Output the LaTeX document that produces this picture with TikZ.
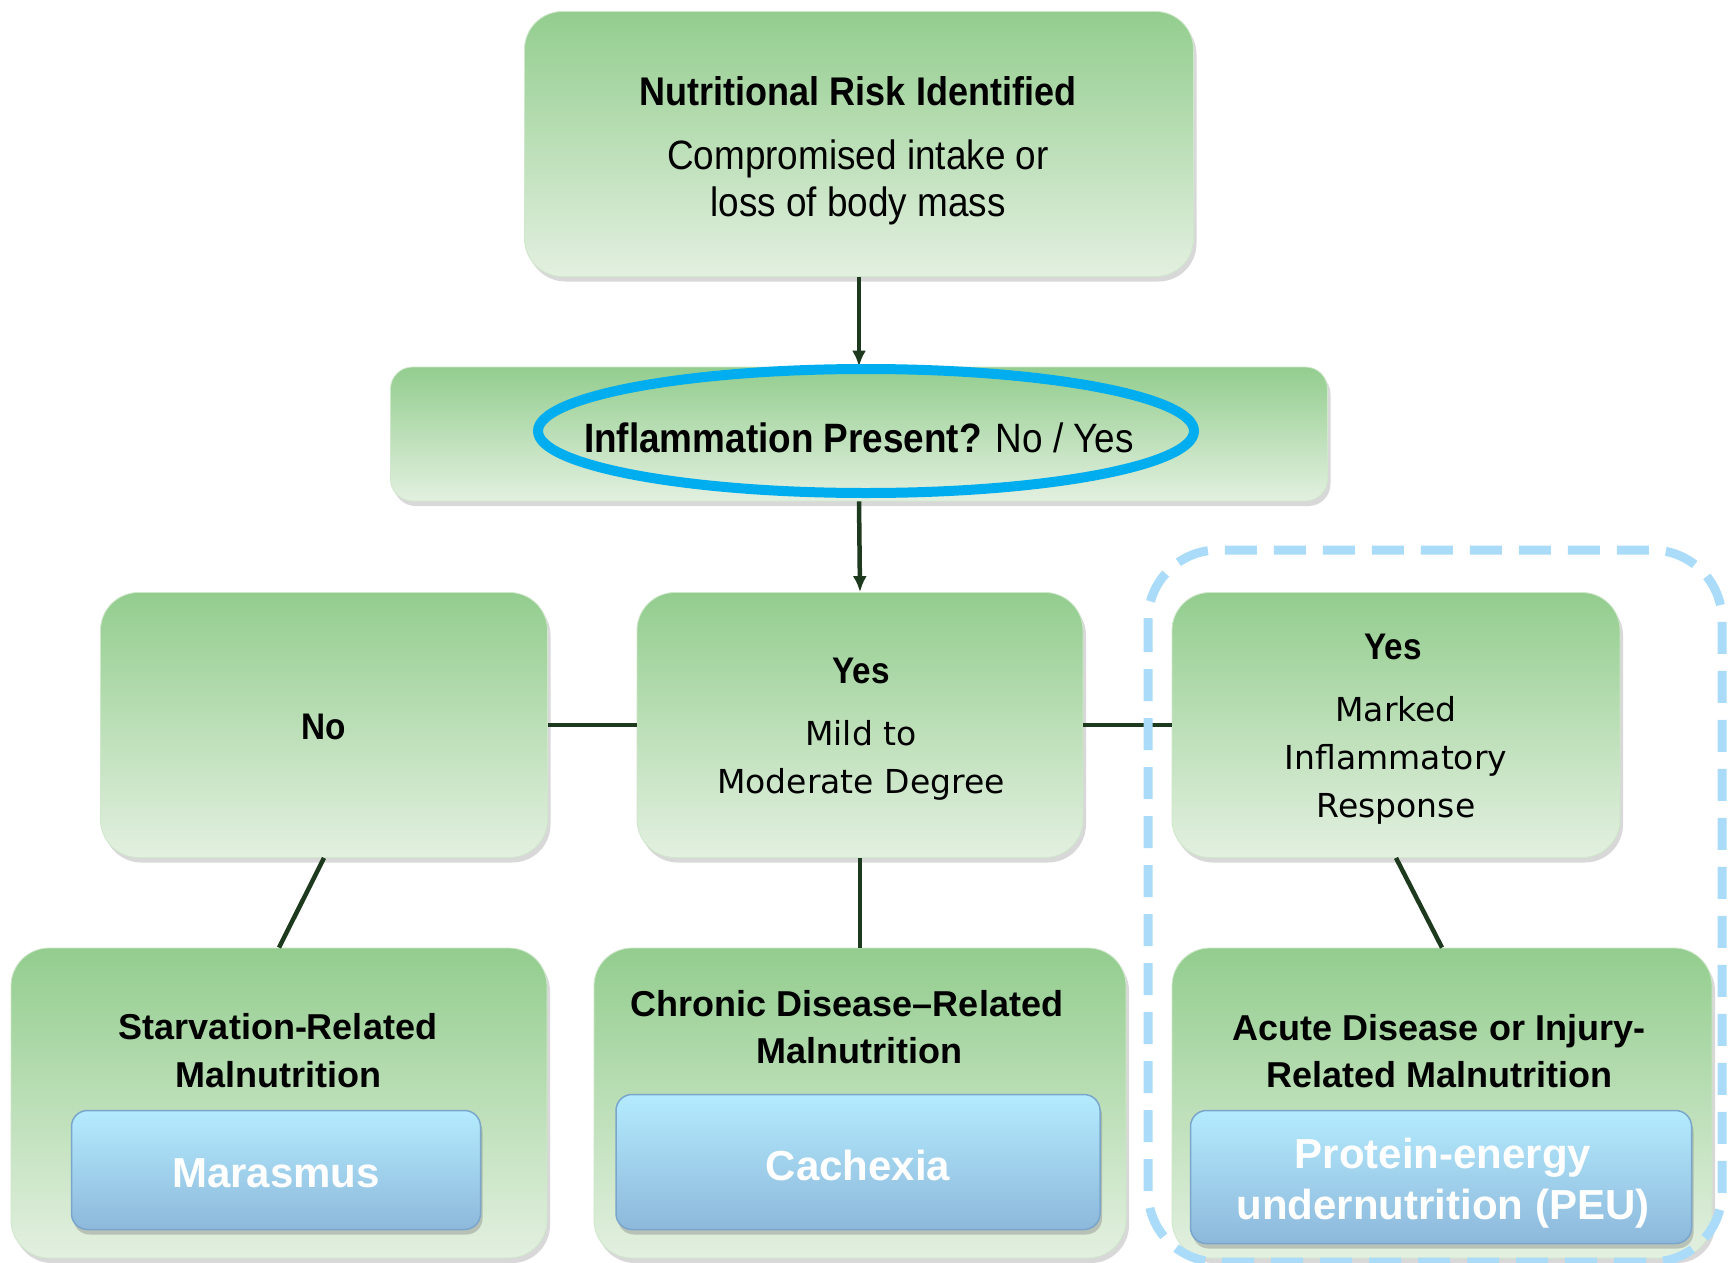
\documentclass[tikz,border=0pt]{standalone}
\usepackage{fontspec}
\setmainfont{Liberation Sans}
\newfontfamily\condfont[FakeStretch=0.9]{Liberation Sans}
\newfontfamily\verdfont{DejaVu Sans}
\usetikzlibrary{shadows,arrows.meta,shapes.geometric}
\definecolor{gtop}{HTML}{93CD8E}
\definecolor{gbot}{HTML}{E3F0E0}
\definecolor{btop}{HTML}{B4EBFE}
\definecolor{bbot}{HTML}{8DB8DB}
\definecolor{bedge}{HTML}{7AA6CC}
\definecolor{conn}{HTML}{1E3A1E}
\definecolor{ring}{HTML}{00AEEF}
\definecolor{dashc}{HTML}{AADCF9}
\begin{document}
\begin{tikzpicture}[x=1pt,y=-1pt,
  gbox/.style={rounded corners=38pt, top color=gtop, bottom color=gbot, draw=gtop!25!gbot, line width=0.8pt, inner sep=0pt,
    drop shadow={shadow xshift=3pt, shadow yshift=-5pt, opacity=0.3}},
  bbox/.style={rounded corners=16pt, top color=btop, bottom color=bbot, draw=bedge, line width=1.5pt, inner sep=0pt,
    drop shadow={shadow xshift=2pt, shadow yshift=-5pt, opacity=0.4}},
  hbold/.style={anchor=base, inner sep=0pt, font=\condfont\bfseries\fontsize{40}{48}\selectfont},
  hreg/.style={anchor=base, inner sep=0pt, font=\condfont\fontsize{41}{48}\selectfont},
  vreg/.style={anchor=base, inner sep=0pt, font=\verdfont\fontsize{33}{40}\selectfont},
  lbold/.style={anchor=base, inner sep=0pt, font=\bfseries\fontsize{36}{44}\selectfont},
  wbold/.style={anchor=base, inner sep=0pt, text=white, font=\bfseries\fontsize{42}{50}\selectfont},
  conn/.style={draw=conn, line width=4.5pt},
  arr/.style={conn, -{Latex[length=16pt,width=14pt]}}
]
\useasboundingbox (0,0) rectangle (1734,1263);
\fill[white] (0,0) rectangle (1734,1263);

% boxes
\node[gbox, minimum width=669pt, minimum height=265pt] (top) at (859,144) {};
\node[gbox, rounded corners=22pt, minimum width=937pt, minimum height=134pt] (infl) at (859,434) {};
\node[gbox, minimum width=447pt, minimum height=265pt] (no) at (324,725) {};
\node[gbox, minimum width=446pt, minimum height=265pt] (mild) at (860,725) {};
\node[gbox, minimum width=448pt, minimum height=265pt] (marked) at (1396,725) {};
\node[gbox, minimum width=536pt, minimum height=310pt] (starv) at (279,1103) {};
\node[gbox, minimum width=532pt, minimum height=310pt] (chron) at (860,1103) {};
\node[gbox, minimum width=540pt, minimum height=310pt] (acute) at (1442,1103) {};

\node[bbox, minimum width=409pt, minimum height=119pt] (maras) at (276,1170) {};
\node[bbox, minimum width=484pt, minimum height=135pt] (cach) at (858,1162) {};
\node[bbox, minimum width=501pt, minimum height=133pt] (peu) at (1441,1177) {};

% connectors
\draw[arr] (top.south) -- (infl.north);
\draw[arr] (infl.south) -- (mild.north);
\draw[conn] (no.east) -- (mild.west);
\draw[conn] (mild.east) -- (marked.west);
\draw[conn] (no.south) -- (starv.north);
\draw[conn] (mild.south) -- (chron.north);
\draw[conn] (marked.south) -- (acute.north);

% texts
\node[hbold] (t1) at (858,105) {Nutritional Risk Identified};
\node[hreg] (t2) at (858,169) {Compromised intake or};
\node[hreg] (t3) at (858,216) {loss of body mass};
\node[anchor=base, inner sep=0pt] (t4) at (859,452) {{\condfont\bfseries\fontsize{41}{48}\selectfont Inflammation Present?}\hspace{14pt}{\condfont\fontsize{41}{48}\selectfont No / Yes}};

\node[hbold, font=\condfont\bfseries\fontsize{37}{44}\selectfont] (t5) at (324,739) {No};
\node[hbold, font=\condfont\bfseries\fontsize{37}{44}\selectfont] (t6) at (861,683) {Yes};
\node[vreg] (t7) at (861,745) {Mild to};
\node[vreg] (t8) at (861,793) {Moderate Degree};
\node[hbold, font=\condfont\bfseries\fontsize{37}{44}\selectfont] (t9) at (1393,659) {Yes};
\node[vreg] (t10) at (1396,721) {Marked};
\node[vreg] (t11) at (1396,769) {Inflammatory};
\node[vreg] (t12) at (1396,817) {Response};

\node[lbold] (t13) at (278,1039) {Starvation-Related};
\node[lbold] (t14) at (278,1087) {Malnutrition};
\node[lbold] (t15) at (847,1016) {Chronic Disease–Related};
\node[lbold] (t16) at (859,1063) {Malnutrition};
\node[lbold] (t17) at (1439,1040) {Acute Disease or Injury-};
\node[lbold] (t18) at (1439,1087) {Related Malnutrition};

\node[wbold] (t19) at (276,1187) {Marasmus};
\node[wbold] (t20) at (858,1180) {Cachexia};
\node[wbold] (t21) at (1443,1168) {Protein-energy};
\node[wbold] (t22) at (1443,1219) {undernutrition (PEU)};

% highlight ring and dashed frame
\node[draw=ring, line width=10pt, ellipse, minimum width=656pt, minimum height=124pt, inner sep=0pt] (ring) at (866,431) {};
\draw[draw=dashc, line width=9pt, dash pattern=on 32pt off 17pt, rounded corners=70pt] (1148,550) rectangle (1722,1262);
\end{tikzpicture}
\end{document}
